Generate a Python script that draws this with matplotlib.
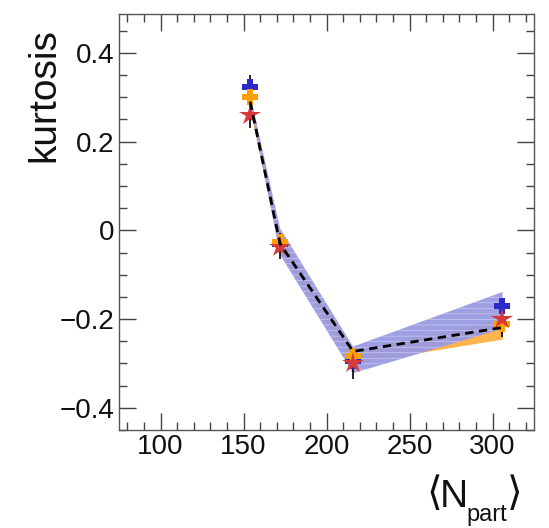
import matplotlib.pyplot as plt
from matplotlib.ticker import MultipleLocator

plt.rcParams["font.family"] = ["Liberation Sans", "DejaVu Sans"]
plt.rcParams["hatch.color"] = "#d4d4f4"
plt.rcParams["hatch.linewidth"] = 0.4

# centrality points
npart = [154, 172, 216, 306]

# model curve (dashed)
model = [0.29, -0.03, -0.273, -0.219]

# blue band
blue_lo = [0.285, -0.055, -0.322, -0.222]
blue_hi = [0.305, 0.005, -0.262, -0.139]
# orange band
orange_lo = [0.27, -0.05, -0.30, -0.245]
orange_hi = [0.30, -0.01, -0.27, -0.20]

# markers
blue_pts = [0.323, -0.03, -0.295, -0.170]
orange_pts = [0.300, -0.027, -0.284, -0.211]
star_pts = [0.260, -0.037, -0.299, -0.200]

# vertical error bars
err_mid = [0.290, -0.035, -0.300, -0.200]
err_half = [0.059, 0.030, 0.034, 0.040]

fig = plt.figure(figsize=(5.49, 5.28), dpi=100)
ax = fig.add_axes([0.2168, 0.1856, 0.7559, 0.7874])

ax.fill_between(npart, orange_lo, orange_hi, color="#ffb54d", lw=0, zorder=1)
ax.fill_between(npart, blue_lo, blue_hi, facecolor="#9a9ae2", alpha=0.95,
                hatch="---", lw=0, zorder=2)

ax.errorbar(npart, err_mid, yerr=err_half, fmt="none", ecolor="black",
            elinewidth=1.2, capsize=0, zorder=3)
ax.plot(npart, blue_pts, "P", color="#2a2ac8", ms=11, mew=0, zorder=4)
ax.plot(npart, orange_pts, "P", color="#ffa000", ms=11, mew=0, zorder=5)
ax.plot(npart, star_pts, "*", color="#d83a3a", ms=16, mew=0, zorder=6)
ax.plot(npart, model, color="black", lw=2, ls=(0, (3, 2)), zorder=7)

ax.set_xlim(75, 325)
ax.set_ylim(-0.45, 0.487)
ax.xaxis.set_major_locator(MultipleLocator(50))
ax.xaxis.set_minor_locator(MultipleLocator(10))
ax.yaxis.set_minor_locator(MultipleLocator(0.05))
ax.set_yticks([-0.4, -0.2, 0, 0.2, 0.4])
ax.set_yticklabels(["\u22120.4", "\u22120.2", "0", "0.2", "0.4"])

ax.tick_params(which="both", direction="in", top=True, right=True,
               color="#444444", labelsize=20, labelcolor="#111111")
ax.tick_params(which="major", length=12, width=1)
ax.tick_params(which="minor", length=6, width=1)
ax.tick_params(axis="x", pad=3)
ax.tick_params(axis="y", pad=3)
for sp in ax.spines.values():
    sp.set_color("#555555")
    sp.set_linewidth(1)

W, H = 549.0, 528.0
fig.text(0.080, 0.947, "kurtosis", rotation=90, ha="center", va="top",
         fontsize=28, color="#111111")
# x label built from pieces: <N_part>
fig.text(426 / W, 1 - 494 / H, "\u27e8", ha="left", va="center",
         fontsize=29, family="DejaVu Sans", color="#111111")
fig.text(440 / W, 1 - 507 / H, "N", ha="left", va="baseline",
         fontsize=28, color="#111111")
fig.text(466 / W, 1 - 521 / H, "part", ha="left", va="baseline",
         fontsize=17, color="#111111")
fig.text(507 / W, 1 - 494 / H, "\u27e9", ha="left", va="center",
         fontsize=29, family="DejaVu Sans", color="#111111")

fig.savefig("out.png", dpi=100)
